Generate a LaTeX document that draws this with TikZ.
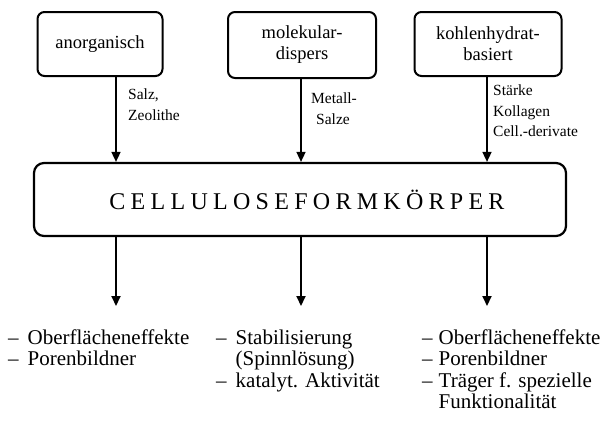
\documentclass[tikz,border=0pt]{standalone}
\usepackage{fontspec}
\setmainfont{Liberation Serif}
\usetikzlibrary{arrows.meta}
\tikzset{
  srcbox/.style={draw, line width=2pt, rounded corners=7pt, minimum height=64pt, align=center, font=\fontsize{18.5}{21}\selectfont, inner sep=2pt},
  mainbox/.style={draw, line width=2.2pt, rounded corners=10pt, minimum width=532pt, minimum height=73pt, inner sep=0pt},
  inarrow/.style={draw, line width=1.6pt, -{Triangle[length=10pt,width=9pt]}},
  outarrow/.style={draw, line width=2pt, -{Triangle[length=10pt,width=9pt]}},
  lbl/.style={anchor=north west, align=left, inner sep=0pt, font=\fontsize{15.5}{20.5}\selectfont},
  outlist/.style={anchor=north west, inner sep=0pt, font=\fontsize{21}{21.5}\selectfont},
}
\begin{document}
\begin{tikzpicture}[x=1pt,y=-1pt]
\useasboundingbox (0,0) rectangle (607,421);
% source boxes
\node[srcbox, minimum width=125pt] (b1) at (100,44) {anorganisch};
\node[srcbox, minimum width=148pt, minimum height=66pt] (b2) at (302,45) {molekular-\\dispers};
\node[srcbox, minimum width=147pt] (b3) at (488,44) {kohlenhydrat-\\basiert};
% main box
\node[mainbox] (m) at (300,199.5) {\hspace*{14pt}\fontsize{24}{28}\selectfont\addfontfeature{LetterSpace=22}CELLULOSEFORMKÖRPER};
% arrow x positions
\coordinate (x1) at (116,0);
\coordinate (x2) at (301,0);
\coordinate (x3) at (487,0);
% incoming arrows
\draw[inarrow] (b1.south -| x1) -- (m.north -| x1);
\draw[inarrow] (b2.south -| x2) -- (m.north -| x2);
\draw[inarrow] (b3.south -| x3) -- (m.north -| x3);
% labels
\node[lbl] (l1) at (128,89) {Salz,\\Zeolithe};
\node[lbl] (l2) at (311,93) {Metall-\\\hspace*{5pt}Salze};
\node[lbl] (l3) at (493,85) {Stärke\\Kollagen\\Cell.-derivate};
% outgoing arrows
\coordinate (e1) at (116,306);
\coordinate (e2) at (301,306);
\coordinate (e3) at (487,306);
\draw[outarrow] (m.south -| e1) -- (e1);
\draw[outarrow] (m.south -| e2) -- (e2);
\draw[outarrow] (m.south -| e3) -- (e3);
% result lists
\node[outlist] (o1) at (8,329) {\begin{tabular}{@{}l@{\hspace{9pt}}l@{}}-- & Oberflächeneffekte\\ -- & Porenbildner\end{tabular}};
\node[outlist] (o2) at (216,329) {\begin{tabular}{@{}l@{\hspace{9pt}}l@{}}-- & Stabilisierung\\ & (Spinnlösung)\\ -- & katalyt. Aktivität\end{tabular}};
\node[outlist] (o3) at (422,329) {\begin{tabular}{@{}l@{\hspace{6pt}}l@{}}-- & Oberflächeneffekte\\ -- & Porenbildner\\ -- & Träger f. spezielle\\ & Funktionalität\end{tabular}};
\end{tikzpicture}
\end{document}
